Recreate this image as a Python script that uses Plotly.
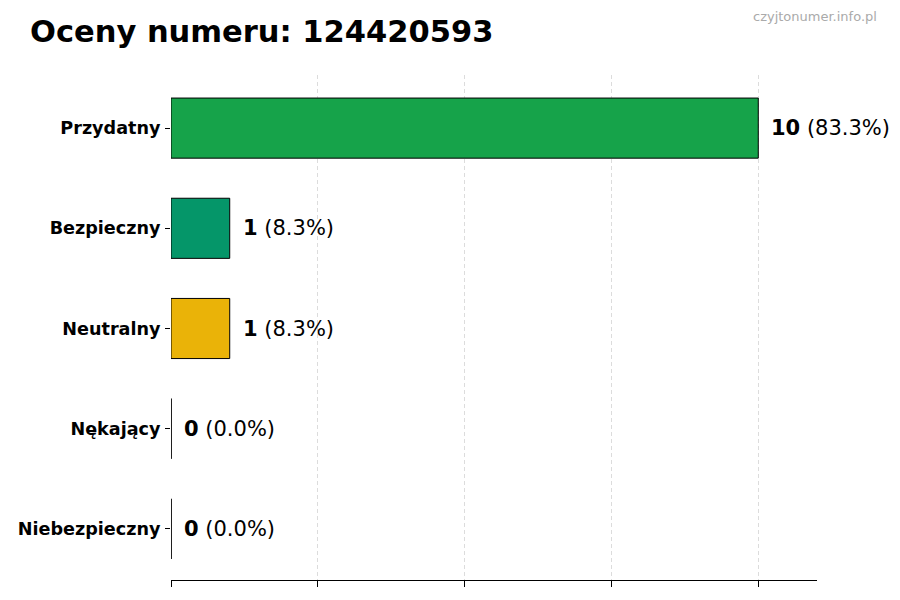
import plotly.graph_objects as go

# ratings for the number, top to bottom
categories = ["Przydatny", "Bezpieczny", "Neutralny", "Nękający", "Niebezpieczny"]
counts = [10, 1, 1, 0, 0]
colors = ["#16a34a", "#059669", "#eab308", "#dc2626", "#991b1b"]
grid_ticks = [0, 2.5, 5, 7.5, 10]

title_text = "Oceny numeru: 124420593"
watermark = "czyjtonumer.info.pl"

total = sum(counts)
ypos = list(range(len(categories)))
bar_h = 0.6

# page body has an 8px margin, so the figure is a bit smaller than the window
W, H = 892, 592
L, R, T, B = 163, 83, 67, 20
plot_w, plot_h = W - L - R, H - T - B

fig = go.Figure()

fig.add_trace(go.Bar(
    x=counts, y=ypos, orientation="h", width=bar_h,
    marker=dict(color=colors, line=dict(color="black", width=1)),
    hoverinfo="skip", showlegend=False,
))

# zero-length bars still show their edge in the original, draw it as a line
zx, zy = [], []
for v, y in zip(counts, ypos):
    if v == 0:
        zx += [v, v, None]
        zy += [y - bar_h / 2, y + bar_h / 2, None]
fig.add_trace(go.Scatter(x=zx, y=zy, mode="lines",
                         line=dict(color="black", width=1),
                         hoverinfo="skip", showlegend=False))

# value labels
for v, y in zip(counts, ypos):
    pct = v / total * 100 if total else 0
    fig.add_annotation(x=v, y=y, xref="x", yref="y",
                       text=f"<b>{v}</b> ({pct:.1f}%)",
                       showarrow=False, xanchor="left", yanchor="middle",
                       xshift=11, font=dict(size=21, color="black"))

fig.update_layout(
    width=W, height=H,
    margin=dict(l=L, r=R, t=T, b=B),
    plot_bgcolor="white", paper_bgcolor="white",
    font=dict(family="DejaVu Sans", color="black"),
    title=dict(text=f"<b>{title_text}</b>", x=22 / W, xanchor="left",
               y=1 - 23 / H, yanchor="middle", font=dict(size=30.5, color="black")),
    xaxis=dict(range=[0, max(counts) * 1.1], tickvals=grid_ticks,
               showticklabels=False, ticks="outside", ticklen=6,
               tickcolor="black", tickwidth=1.2,
               showline=True, linecolor="black", linewidth=1.3,
               showgrid=True, gridcolor="#dcdcdc", griddash="4px,3px",
               gridwidth=1, zeroline=False, fixedrange=True,
               automargin=False),
    yaxis=dict(range=[len(categories) - 0.49, -0.53], tickvals=ypos,
               ticktext=[f"<b>{c}</b>" for c in categories],
               ticks="outside", ticklen=5, tickcolor="black",
               ticklabelstandoff=1,
               tickfont=dict(size=17.6, color="black"),
               showline=False, showgrid=False, zeroline=False,
               fixedrange=True, automargin=False),
)

fig.add_annotation(text=watermark, xref="paper", yref="paper",
                   x=(871 - L) / plot_w, y=1 + (T - 9) / plot_h,
                   showarrow=False, xanchor="right", yanchor="middle",
                   font=dict(size=13, color="#aaaaaa"))

fig.write_html("out.html")
